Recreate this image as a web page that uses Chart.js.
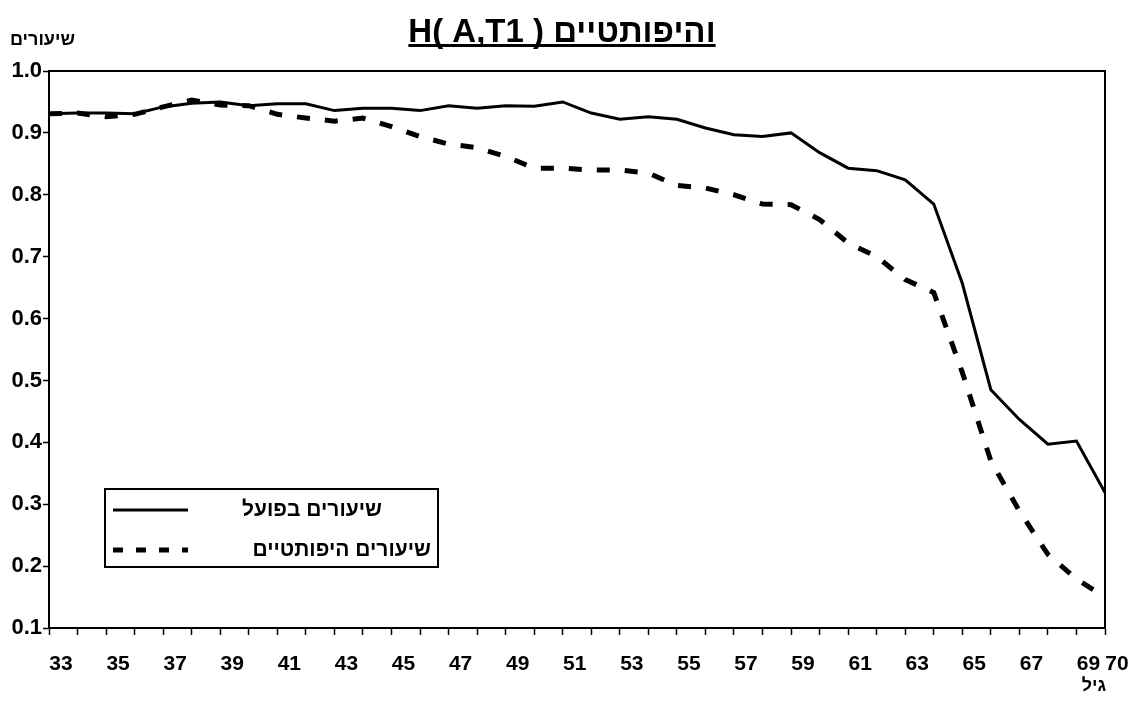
<!DOCTYPE html>
<html>
<head>
<meta charset="utf-8">
<script src="https://cdn.jsdelivr.net/npm/chart.js@4/dist/chart.umd.min.js"></script>
<style>
  body { margin: 0; background: #fff; }
  #wrap { width: 1128px; height: 717px; }
</style>
</head>
<body>
<div id="wrap"><canvas id="rateChart" width="1128" height="717"></canvas></div>
<script>
// ages on the x axis (one point per year)
const ages = [33, 34, 35, 36, 37, 38, 39, 40, 41, 42, 43, 44, 45, 46, 47, 48, 49, 50, 51,
              52, 53, 54, 55, 56, 57, 58, 59, 60, 61, 62, 63, 64, 65, 66, 67, 68, 69, 70];

// actual rates (solid line)
const actualRates = [0.931, 0.932, 0.932, 0.931, 0.942, 0.948, 0.950, 0.944, 0.947, 0.947,
                     0.936, 0.940, 0.940, 0.936, 0.944, 0.940, 0.944, 0.943, 0.950,
                     0.932, 0.922, 0.926, 0.922, 0.908, 0.897, 0.894, 0.900, 0.868, 0.843,
                     0.839, 0.824, 0.785, 0.657, 0.485, 0.437, 0.397, 0.402, 0.319];

// hypothetical rates (dashed line)
const hypoRates = [0.931, 0.932, 0.926, 0.930, 0.942, 0.953, 0.945, 0.944, 0.930, 0.924,
                   0.919, 0.924, 0.910, 0.894, 0.882, 0.876, 0.862, 0.843, 0.843,
                   0.840, 0.840, 0.835, 0.815, 0.811, 0.800, 0.785, 0.784, 0.760, 0.722,
                   0.700, 0.663, 0.642, 0.513, 0.370, 0.289, 0.219, 0.179, 0.150];

const xTickLabels = [33, 35, 37, 39, 41, 43, 45, 47, 49, 51, 53, 55, 57, 59, 61, 63, 65, 67, 69, 70];
const yTickValues = [0.1, 0.2, 0.3, 0.4, 0.5, 0.6, 0.7, 0.8, 0.9, 1.0];

const seriesNames = ['שיעורים בפועל', 'שיעורים היפותטיים'];
const titleText = 'H( A,T1 ) והיפותטיים';
const yTitle = 'שיעורים';
const xTitle = 'גיל';

const FONT = "'Liberation Sans', Arial, sans-serif";

// title, axis captions, frame and the boxed legend
const extrasPlugin = {
    id: 'extras',
    afterDraw(chart) {
        const ctx = chart.ctx;
        const area = chart.chartArea;
        ctx.save();

        // frame round the plot
        ctx.strokeStyle = '#000';
        ctx.lineWidth = 2;
        ctx.strokeRect(area.left, area.top, area.right - area.left, area.bottom - area.top);

        // title with underline
        ctx.fillStyle = '#000';
        ctx.direction = 'ltr';
        ctx.font = 'bold 33px ' + FONT;
        ctx.textAlign = 'center';
        ctx.textBaseline = 'alphabetic';
        const tx = 562, ty = 42;
        ctx.fillText(titleText, tx, ty);
        const tw = ctx.measureText(titleText).width;
        ctx.fillRect(tx - tw / 2, ty + 2, tw, 3);

        // axis captions
        ctx.font = 'bold 18px ' + FONT;
        ctx.textBaseline = 'middle';
        ctx.textAlign = 'left';
        ctx.fillText(yTitle, 10, 40);
        ctx.textAlign = 'right';
        ctx.fillText(xTitle, 1106, 686);

        // legend box
        const lx = 105, ly = 489, lw = 333, lh = 78;
        ctx.fillStyle = '#fff';
        ctx.fillRect(lx, ly, lw, lh);
        ctx.lineWidth = 2;
        ctx.strokeStyle = '#000';
        ctx.strokeRect(lx, ly, lw, lh);

        const rows = [
            { y: 510, textRight: 382 },
            { y: 550, textRight: 431 }
        ];
        chart.data.datasets.forEach((ds, i) => {
            const r = rows[i];
            ctx.beginPath();
            ctx.lineWidth = ds.borderWidth;
            ctx.setLineDash(ds.borderDash && ds.borderDash.length ? [10, 13] : []);
            ctx.moveTo(113, r.y);
            ctx.lineTo(188, r.y);
            ctx.stroke();
            ctx.setLineDash([]);
            ctx.fillStyle = '#000';
            ctx.font = 'bold 21px ' + FONT;
            ctx.textAlign = 'right';
            ctx.textBaseline = 'middle';
            ctx.fillText(ds.label, r.textRight, r.y);
        });

        ctx.restore();
    }
};

const ctx = document.getElementById('rateChart').getContext('2d');

new Chart(ctx, {
    type: 'line',
    data: {
        datasets: [{
            label: seriesNames[0],
            data: ages.map((a, i) => ({ x: a, y: actualRates[i] })),
            borderColor: '#000',
            borderWidth: 3,
            pointRadius: 0,
            tension: 0,
            fill: false
        }, {
            label: seriesNames[1],
            data: ages.map((a, i) => ({ x: a, y: hypoRates[i] })),
            borderColor: '#000',
            borderWidth: 5,
            borderDash: [13, 15],
            pointRadius: 0,
            tension: 0,
            fill: false
        }]
    },
    options: {
        responsive: false,
        animation: false,
        layout: { padding: { top: 71, right: 23, left: 0, bottom: 0 } },
        plugins: {
            legend: { display: false },
            title: { display: false },
            tooltip: { enabled: false }
        },
        scales: {
            x: {
                type: 'linear',
                min: 33,
                max: 70,
                afterBuildTicks: scale => { scale.ticks = ages.map(v => ({ value: v })); },
                afterFit: scale => {
                    scale.height = 89;
                    scale.paddingLeft = 0;   // keep the plot edges fixed
                    scale.paddingRight = 0;
                },
                grid: {
                    drawOnChartArea: false,
                    drawTicks: true,
                    tickLength: 7,
                    tickColor: '#000',
                    tickWidth: 1.5
                },
                border: { display: true, color: '#000', width: 2 },
                ticks: {
                    autoSkip: false,
                    maxRotation: 0,
                    minRotation: 0,
                    labelOffset: 12,
                    padding: 17,
                    color: '#000',
                    font: { family: FONT, size: 21, weight: 'bold' },
                    callback: v => xTickLabels.includes(v) ? String(v) : ''
                }
            },
            y: {
                min: 0.1,
                max: 1.0,
                afterBuildTicks: scale => { scale.ticks = yTickValues.map(v => ({ value: v })); },
                afterFit: scale => { scale.width = 49; },
                grid: {
                    drawOnChartArea: false,
                    drawTicks: true,
                    tickLength: 6,
                    tickColor: '#000',
                    tickWidth: 1.5
                },
                border: { display: true, color: '#000', width: 2 },
                ticks: {
                    padding: 1,
                    color: '#000',
                    font: { family: FONT, size: 22, weight: 'bold' },
                    callback: v => v.toFixed(1)
                }
            }
        }
    },
    plugins: [extrasPlugin]
});
</script>
</body>
</html>
